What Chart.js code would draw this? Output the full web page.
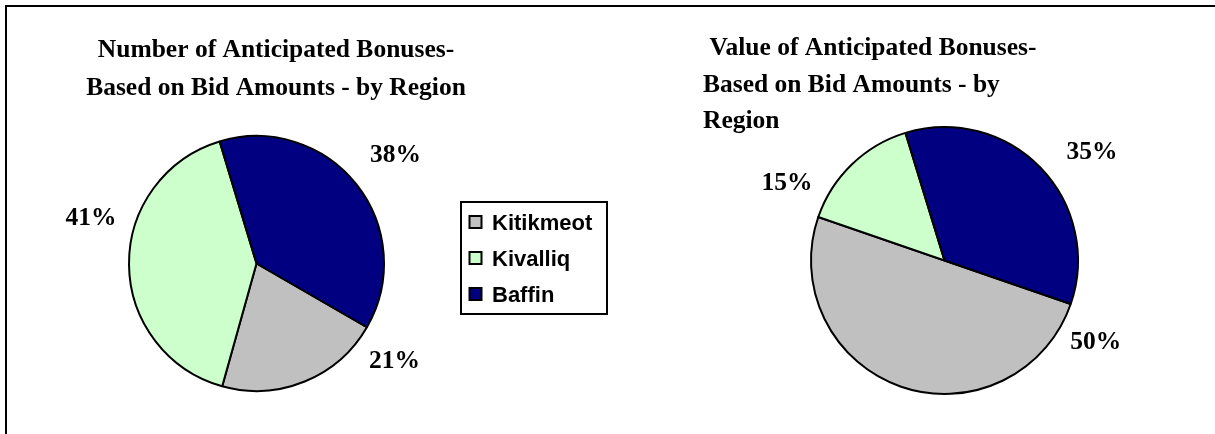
<!DOCTYPE html>
<html>
<head>
<meta charset="utf-8">
<script src="https://cdn.jsdelivr.net/npm/chart.js@4.4.1/dist/chart.umd.min.js"></script>
<style>
    body { margin: 0; background: #fff; width: 1215px; height: 434px; overflow: hidden; position: relative; }
    #frame { position: absolute; left: 5px; top: 5px; width: 1215px; height: 434px; border-top: 2px solid #000; border-left: 2px solid #000; }
    #leftChart { position: absolute; left: 0; top: 0; }
    #rightChart { position: absolute; left: 620px; top: 0; }
</style>
</head>
<body>
<div id="frame"></div>
<canvas id="leftChart" width="620" height="434"></canvas>
<canvas id="rightChart" width="595" height="434"></canvas>
<script>
// Данные
const regions = ['Kitikmeot', 'Kivalliq', 'Baffin'];
const regionColors = ['#C0C0C0', '#CCFFCC', '#000080'];
const bonusCount = [21, 41, 38];
const bonusValue = [50, 15, 35];

const leftTitle = ['Number of Anticipated Bonuses-', 'Based on Bid Amounts - by Region'];
const rightTitle = [' Value of Anticipated Bonuses-', 'Based on Bid Amounts - by', 'Region'];

// label placement: [angle from top (deg), distance as share of radius]
const leftLabelPos = [[124.9, 1.32], [286, 1.35], [51.6, 1.39]];
const rightLabelPos = [[117.8, 1.28], [296.6, 1.32], [53.4, 1.376]];

const serif = 'bold 25.5px "Liberation Serif", "Times New Roman", serif';

const pieExtras = {
    id: 'pieExtras',
    afterDraw(chart, args, opts) {
        const ctx = chart.ctx;
        const meta = chart.getDatasetMeta(0);
        const values = chart.data.datasets[0].data;
        const total = values.reduce((a, b) => a + b, 0);
        ctx.save();
        ctx.fillStyle = '#000';
        ctx.font = serif;

        // заголовок
        ctx.textAlign = opts.titleAlign;
        opts.title.forEach((line, i) => {
            ctx.fillText(line, opts.titleX, opts.titleY + i * opts.titleStep);
        });

        // проценты
        ctx.textAlign = 'center';
        meta.data.forEach((arc, i) => {
            const p = opts.labelPos[i];
            const a = p[0] * Math.PI / 180;
            const r = arc.outerRadius * p[1];
            const x = arc.x + Math.sin(a) * r;
            const y = arc.y - Math.cos(a) * r;
            ctx.fillText(Math.round(values[i] / total * 100) + '%', x, y + 8.5);
        });

        // легенда
        if (opts.legend) {
            const lg = opts.legend;
            ctx.lineWidth = 2;
            ctx.strokeStyle = '#000';
            ctx.strokeRect(lg.x, lg.y, lg.w, lg.h);
            ctx.font = 'bold 22px "Liberation Sans", Arial, sans-serif';
            ctx.textAlign = 'left';
            chart.data.labels.forEach((label, i) => {
                const cy = lg.y + lg.first + i * lg.step;
                ctx.fillStyle = chart.data.datasets[0].backgroundColor[i];
                ctx.fillRect(lg.x + 8.5, cy - 6, 12, 12);
                ctx.strokeRect(lg.x + 8.5, cy - 6, 12, 12);
                ctx.fillStyle = '#000';
                ctx.fillText(label, lg.x + 31, cy + 7.5);
            });
        }
        ctx.restore();
    }
};

function makePie(id, values, rotation, padding, extras) {
    return new Chart(document.getElementById(id), {
        type: 'pie',
        data: {
            labels: regions,
            datasets: [{
                data: values,
                backgroundColor: regionColors,
                borderColor: '#000',
                borderWidth: 2
            }]
        },
        options: {
            responsive: false,
            animation: false,
            rotation: rotation,
            layout: { padding: padding },
            events: [],
            plugins: {
                legend: { display: false },
                tooltip: { enabled: false },
                pieExtras: extras
            }
        },
        plugins: [pieExtras]
    });
}

makePie('leftChart', bonusCount, 120,
    { left: 128, right: 235, top: 135, bottom: 42 },
    {
        title: leftTitle, titleAlign: 'center', titleX: 276, titleY: 57, titleStep: 38,
        labelPos: leftLabelPos,
        legend: { x: 461, y: 202, w: 146, h: 112, first: 20, step: 36 }
    });

makePie('rightChart', bonusValue, 109,
    { left: 190, right: 136, top: 126, bottom: 39 },
    {
        title: rightTitle, titleAlign: 'left', titleX: 83, titleY: 55, titleStep: 36.5,
        labelPos: rightLabelPos
    });
</script>
</body>
</html>
